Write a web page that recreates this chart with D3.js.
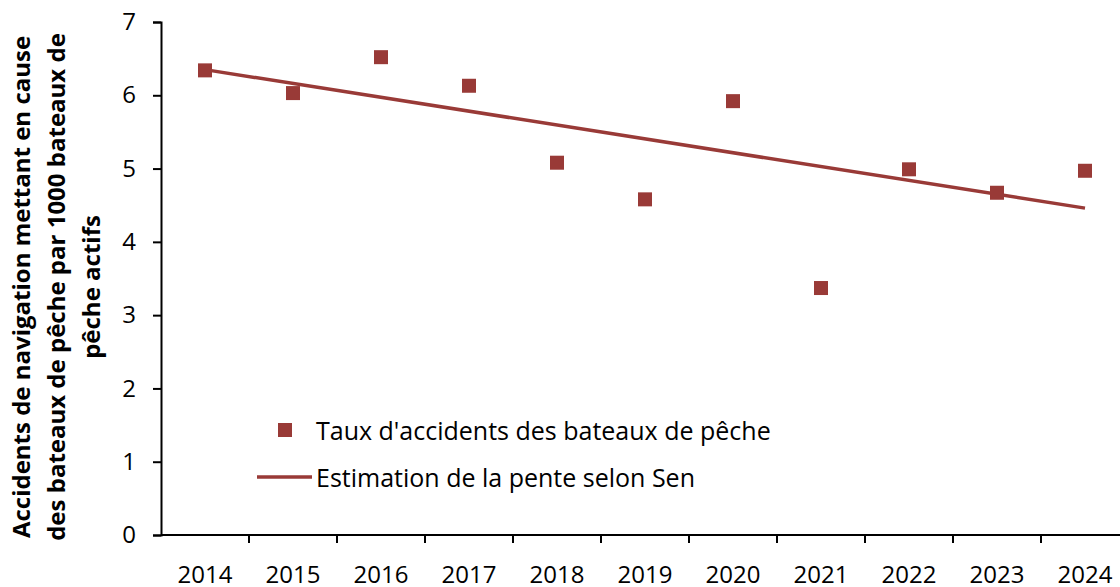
<!DOCTYPE html>
<html>
<head>
<meta charset="utf-8">
<script src="https://cdn.jsdelivr.net/npm/d3@7"></script>
<style>
  body { margin: 0; background: #fff; }
  svg { display: block; font-family: "Open Sans", "Noto Sans", sans-serif; }
</style>
</head>
<body>
<div id="chart"></div>
<script>
const years = ['2014','2015','2016','2017','2018','2019','2020','2021','2022','2023','2024'];
const rates = [6.34, 6.03, 6.52, 6.13, 5.08, 4.58, 5.92, 3.37, 4.99, 4.67, 4.97];
const senYears = ['2014', '2024'];
const senValues = [6.35, 4.46];
const yTicks = [0, 1, 2, 3, 4, 5, 6, 7];
const titleLines = ['Accidents de navigation mettant en cause',
                    'des bateaux de pêche par 1000 bateaux de',
                    'pêche actifs'];
const legendLabels = ["Taux d'accidents des bateaux de pêche", 'Estimation de la pente selon Sen'];

const width = 1120, height = 587;
const plotLeft = 161, plotTop = 22, plotBottom = 535;
const bandW = 88;
const color = '#993a37';

const svg = d3.select('#chart')
  .append('svg')
  .attr('width', width)
  .attr('height', height);

const x = d3.scaleBand()
  .domain(years)
  .range([plotLeft, plotLeft + years.length * bandW]);

const y = d3.scaleLinear()
  .domain([0, 7])
  .range([plotBottom, plotTop]);

// y axis
const yAxis = svg.append('g')
  .attr('transform', `translate(${plotLeft},0)`)
  .call(d3.axisLeft(y).tickValues(yTicks).tickFormat(d3.format('d')).tickSize(8).tickPadding(17));
yAxis.select('.domain').attr('stroke', '#000').attr('stroke-width', 2);
yAxis.selectAll('.tick line').attr('stroke', '#000').attr('stroke-width', 2);
yAxis.selectAll('.tick text').attr('font-size', 24).attr('fill', '#000')
  .attr('font-family', '"Open Sans", sans-serif');

// x axis, ticks between categories
const xAxis = svg.append('g')
  .attr('transform', `translate(0,${plotBottom})`);
xAxis.append('line')
  .attr('x1', plotLeft).attr('x2', width)
  .attr('stroke', '#000').attr('stroke-width', 2);
xAxis.selectAll('.sep')
  .data(years.slice(1))
  .enter()
  .append('line')
  .attr('x1', d => x(d)).attr('x2', d => x(d))
  .attr('y1', 0).attr('y2', 8)
  .attr('stroke', '#000').attr('stroke-width', 2);
xAxis.selectAll('text')
  .data(years)
  .enter()
  .append('text')
  .attr('x', d => x(d) + x.bandwidth() / 2)
  .attr('y', 48)
  .attr('text-anchor', 'middle')
  .attr('font-size', 24)
  .attr('fill', '#000')
  .text(d => d);

// y title
const title = svg.append('text')
  .attr('transform', 'translate(58,287) rotate(-90)')
  .attr('text-anchor', 'middle')
  .attr('font-size', 24)
  .attr('font-weight', 'bold')
  .attr('fill', '#000');
titleLines.forEach((t, i) => {
  title.append('tspan')
    .attr('x', 0)
    .attr('y', (i - 1) * 35 + 7)
    .text(t);
});

// Sen line
svg.append('line')
  .attr('x1', x(senYears[0]) + x.bandwidth() / 2)
  .attr('y1', y(senValues[0]))
  .attr('x2', x(senYears[1]) + x.bandwidth() / 2)
  .attr('y2', y(senValues[1]))
  .attr('stroke', color)
  .attr('stroke-width', 3.5);

// points
const ms = 14;
svg.selectAll('.pt')
  .data(rates)
  .enter()
  .append('rect')
  .attr('x', (d, i) => x(years[i]) + x.bandwidth() / 2 - ms / 2)
  .attr('y', d => y(d) - ms / 2)
  .attr('width', ms)
  .attr('height', ms)
  .attr('fill', color);

// legend
const lg = svg.append('g');
lg.append('rect')
  .attr('x', 278).attr('y', 423)
  .attr('width', ms).attr('height', ms)
  .attr('fill', color);
lg.append('line')
  .attr('x1', 257).attr('x2', 312)
  .attr('y1', 477).attr('y2', 477)
  .attr('stroke', color).attr('stroke-width', 3.5);
lg.selectAll('text')
  .data(legendLabels)
  .enter()
  .append('text')
  .attr('x', 316)
  .attr('y', (d, i) => 440 + i * 47)
  .attr('font-size', 25)
  .attr('fill', '#000')
  .text(d => d);
</script>
</body>
</html>
